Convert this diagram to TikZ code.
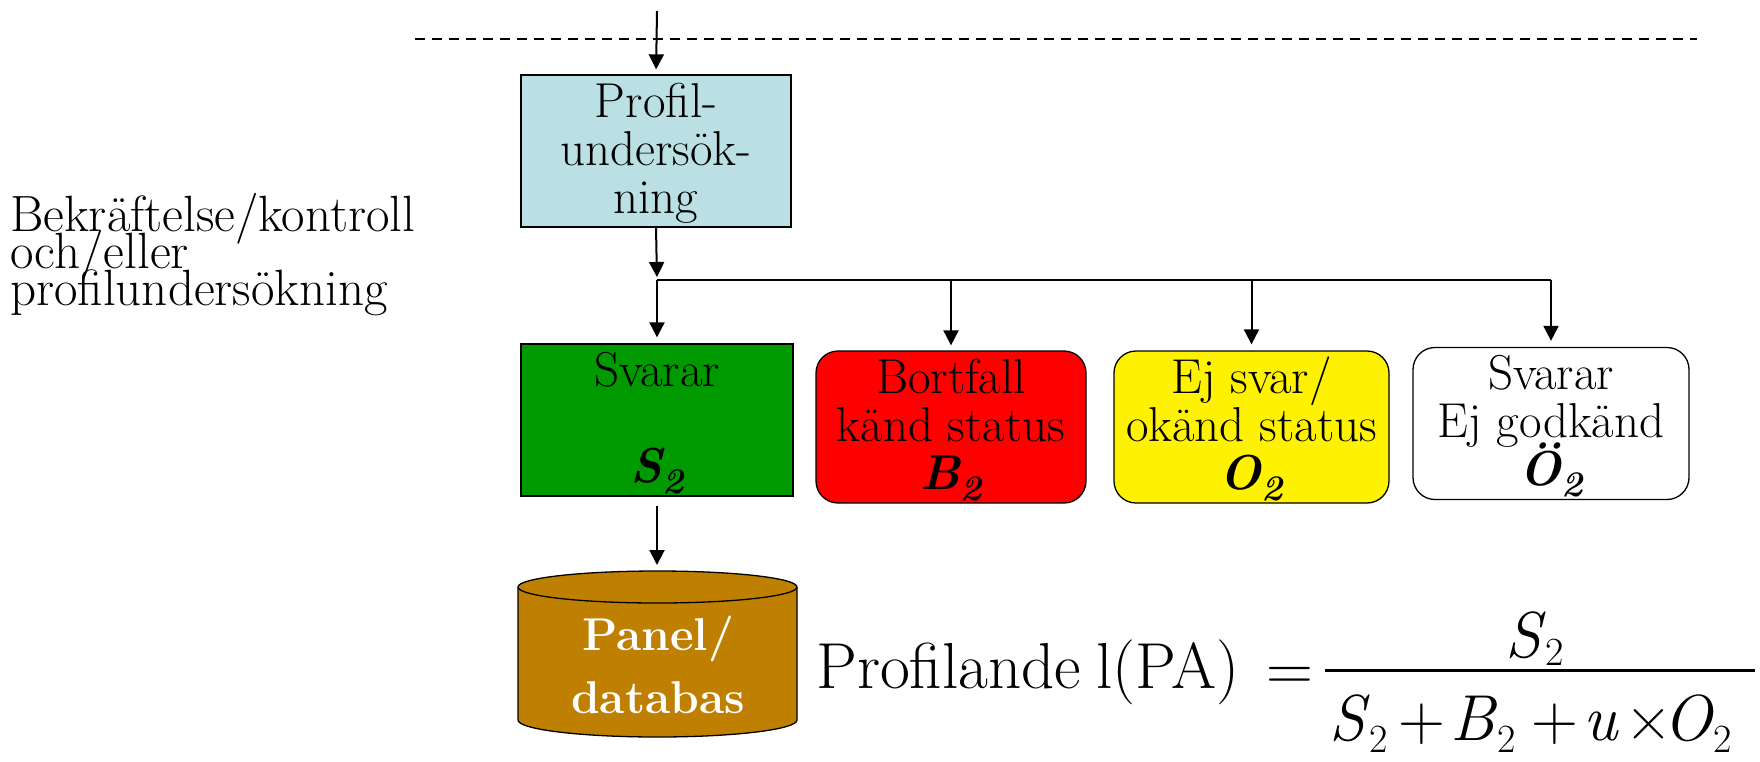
\documentclass[tikz,border=0pt]{standalone}
\usepackage{fontspec}
\usetikzlibrary{arrows.meta}
\definecolor{profblue}{RGB}{187,224,227}
\definecolor{svargreen}{RGB}{0,153,0}
\definecolor{dbbrown}{RGB}{191,127,0}
% lines keep their baseline distance even when glyphs crowd
\lineskiplimit=-100pt
% fixed first-line height and last-line depth for the box labels
\newcommand\firstln{\rule{0pt}{42pt}}
\newcommand\lastln{\rule[-14pt]{0pt}{14pt}}
% lowered subscript two: #1 drop, #2 size
\newcommand\idx[2]{\raisebox{-#1}{\fontsize{#2}{#2}\selectfont 2}}
\tikzset{
  x=1pt, y=1pt,
  conn/.style={line width=2pt},
  arr/.style={conn, -{Triangle[length=15pt,width=15pt]}},
  boxtxt/.style={font=\fontsize{49}{48}\selectfont,
    align=center, inner sep=0pt, line width=1.3pt, draw=black},
  plainbox/.style={boxtxt, rectangle},
  roundbox/.style={boxtxt, rounded corners=22pt},
  shapeline/.style={line width=1.3pt, draw=black},
  formula/.style={font=\fontsize{65}{65}\selectfont, inner sep=0pt},
}
\begin{document}
\begin{tikzpicture}
\useasboundingbox (0,0) rectangle (1760,-761);

% separator
\draw[line width=1.3pt, dash pattern=on 10pt off 7pt] (415,-39) -- (1697,-39);

% side caption
\node[font=\fontsize{51}{37}\selectfont, align=left,
      inner sep=0pt, anchor=north west] (bek) at (10,-191)
  {\rule{0pt}{40pt}Bekräftelse/kontroll\\och/eller\\profilundersökning};

% profile survey
\coordinate (in) at (657,-11);
\node[plainbox, fill=profblue, minimum width=270pt, minimum height=152pt]
  (prof) at (656,-151) {\firstln Profil-\\undersök-\\ning\lastln};

% outcome boxes
\node[plainbox, fill=svargreen, minimum width=272pt, minimum height=152pt]
  (svar) at (657,-420) {\firstln Svarar\\\mbox{}\\{\bfseries\itshape S\idx{11pt}{36}}\lastln};
\node[roundbox, fill=red, minimum width=270pt, minimum height=150pt]
  (bort) at (951,-427) {\firstln Bortfall\\känd status\\{\bfseries\itshape B\idx{11pt}{36}}\lastln};
\node[roundbox, fill=yellow, minimum width=275pt, minimum height=152pt]
  (okand) at (1251.5,-427) {\firstln Ej svar/\\okänd status\\{\bfseries\itshape O\idx{11pt}{36}}\lastln};
\node[roundbox, fill=white, minimum width=276pt, minimum height=151pt]
  (ejgk) at (1551,-423.5) {\firstln Svarar\\Ej godkänd\\{\bfseries\itshape Ö\idx{11pt}{36}}\lastln};

% connectors
\coordinate (j) at (657,-280);
\draw[arr, shorten >=5pt] (in) -- (prof.north);
\draw[arr, shorten >=3pt] (prof.south) -- (j);
\draw[conn] (j) -- (ejgk.north |- j);
\draw[arr, shorten >=6pt] (j) -- (svar.north);
\draw[arr, shorten >=5pt] (bort.north |- j) -- (bort.north);
\draw[arr, shorten >=6pt] (okand.north |- j) -- (okand.north);
\draw[arr, shorten >=6pt] (ejgk.north |- j) -- (ejgk.north);

% panel / database cylinder
\fill[dbbrown] (518,-587) -- (518,-720)
  arc[start angle=180, end angle=360, x radius=139.5pt, y radius=17pt] -- (797,-587) -- cycle;
\draw[shapeline] (518,-587) -- (518,-720)
  arc[start angle=180, end angle=360, x radius=139.5pt, y radius=17pt] -- (797,-587);
\filldraw[shapeline, fill=dbbrown] (657.5,-587) ellipse[x radius=139.5pt, y radius=16pt];
\coordinate (dbtop) at (657,-571);
\node[font=\bfseries\fontsize{46}{63}\selectfont, text=white,
      align=center, inner sep=0pt, anchor=north] (dbtxt) at (658,-610)
  {\rule{0pt}{40pt}Panel/\\databas};
\draw[arr, shorten <=9pt, shorten >=6pt] (svar.south) -- (dbtop);

% share formula
\node[formula, anchor=base west] (pa) at (816,-688) {Profilande\hspace{15pt}l(PA)};
\node[formula, anchor=base west] (eq) at (1266,-690) {=};
\draw[line width=3pt] (1325,-670) -- (1755,-670);
\node[formula, anchor=base west] (num) at (1505,-657) {\textit{S}\idx{8pt}{40}};
\node[formula, anchor=base west] (den) at (1329,-740)
  {\makebox[69pt][l]{\textit{S}\idx{12pt}{40}}\makebox[52pt][l]{+}%
   \makebox[81pt][l]{\textit{B}\idx{12pt}{40}}\makebox[52pt][l]{+}%
   \makebox[42pt][l]{\textit{u}}\makebox[38pt][l]{×}%
   \textit{O}\idx{12pt}{40}};
\end{tikzpicture}
\end{document}
